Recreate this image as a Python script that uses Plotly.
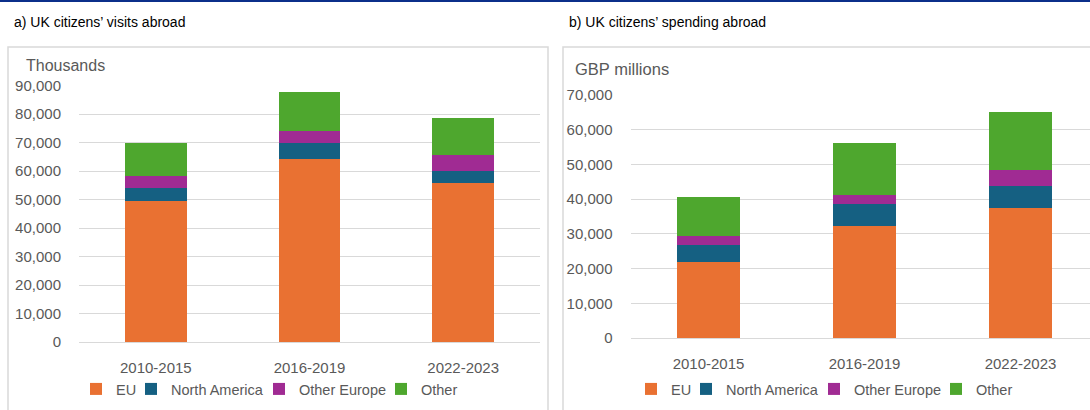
import plotly.graph_objects as go

categories = ["2010-2015", "2016-2019", "2022-2023"]
series_names = ["EU", "North America", "Other Europe", "Other"]
colors = ["#E97132", "#156082", "#A02B93", "#4EA72E"]

# a) UK citizens' visits abroad (thousands)
visits_eu = [49600, 64300, 55800]
visits_na = [4500, 5500, 4200]
visits_oe = [4100, 4300, 5500]
visits_other = [11600, 13800, 13100]

# b) UK citizens' spending abroad (GBP millions)
spend_eu = [21900, 32200, 37500]
spend_na = [4900, 6500, 6200]
spend_oe = [2500, 2500, 4700]
spend_other = [11200, 15100, 16800]

W, H = 1090, 410
TXT = "#595959"
GRID = "#D9D9D9"
FONT = "Liberation Sans, Arial, sans-serif"

# legend entry widths (px) for a slightly tighter legend, like the original
legend_w = [10, 83, 77, 36]

def px_x(p):
    return p / W

def px_y(p):
    return 1 - p / H

fig = go.Figure()

left = [visits_eu, visits_na, visits_oe, visits_other]
right = [spend_eu, spend_na, spend_oe, spend_other]
for name, col, vals, lw in zip(series_names, colors, left, legend_w):
    fig.add_trace(go.Bar(x=categories, y=vals, name=name, marker=dict(color=col, line=dict(width=0)),
                         xaxis="x", yaxis="y", legend="legend", legendwidth=lw))
for name, col, vals, lw in zip(series_names, colors, right, legend_w):
    fig.add_trace(go.Bar(x=categories, y=vals, name=name, marker=dict(color=col, line=dict(width=0)),
                         xaxis="x2", yaxis="y2", legend="legend2", legendwidth=lw))

axis_font = dict(family=FONT, size=15, color=TXT)

fig.update_layout(
    width=W, height=H,
    margin=dict(l=0, r=0, t=0, b=0, autoexpand=False),
    paper_bgcolor="white", plot_bgcolor="white",
    barmode="stack", bargap=0.6,
    font=dict(family=FONT, color=TXT),
    xaxis=dict(domain=[px_x(79), px_x(540)], showgrid=False, showline=False, zeroline=False,
               tickfont=axis_font, ticks="outside", ticklen=12, tickcolor="rgba(0,0,0,0)",
               anchor="y", automargin=False),
    yaxis=dict(domain=[px_y(342), px_y(85.7)], range=[0, 90000], dtick=10000, tickformat=",",
               showgrid=True, gridcolor=GRID, gridwidth=1, zeroline=True, zerolinecolor=GRID,
               zerolinewidth=1, showline=False, tickfont=axis_font, ticks="outside", ticklen=14,
               tickcolor="rgba(0,0,0,0)", anchor="x", automargin=False),
    xaxis2=dict(domain=[px_x(630.5), 1], range=[-0.5, (W - 630.5) / 156 - 0.5], showgrid=False,
                showline=False, zeroline=False, tickfont=axis_font, ticks="outside", ticklen=12,
                tickcolor="rgba(0,0,0,0)", anchor="y2", automargin=False),
    yaxis2=dict(domain=[px_y(338), px_y(95)], range=[0, 70000], dtick=10000, tickformat=",",
                showgrid=True, gridcolor=GRID, gridwidth=1, zeroline=True, zerolinecolor=GRID,
                zerolinewidth=1, showline=False, tickfont=axis_font, ticks="outside", ticklen=14,
                tickcolor="rgba(0,0,0,0)", anchor="x2", automargin=False),
    legend=dict(orientation="h", x=px_x(116 - 40), xanchor="left", y=px_y(389), yanchor="middle",
                font=dict(family=FONT, size=14.5, color=TXT), itemwidth=30, traceorder="normal",
                bgcolor="rgba(0,0,0,0)"),
    legend2=dict(orientation="h", x=px_x(671 - 40), xanchor="left", y=px_y(389), yanchor="middle",
                 font=dict(family=FONT, size=14.5, color=TXT), itemwidth=30, traceorder="normal",
                 bgcolor="rgba(0,0,0,0)"),
    showlegend=True,
)

shapes = [
    dict(type="rect", xref="paper", yref="paper", x0=0, x1=1, y0=px_y(2), y1=1,
         fillcolor="#0B2F8A", line=dict(width=0), layer="above"),
    dict(type="rect", xref="paper", yref="paper", x0=px_x(8), x1=px_x(548), y0=px_y(415), y1=px_y(47),
         fillcolor="rgba(0,0,0,0)", line=dict(color=GRID, width=1.5), layer="below"),
    dict(type="rect", xref="paper", yref="paper", x0=px_x(563), x1=px_x(1100), y0=px_y(415), y1=px_y(47),
         fillcolor="rgba(0,0,0,0)", line=dict(color=GRID, width=1.5), layer="below"),
]
fig.update_layout(shapes=shapes)

annotations = [
    dict(text="a) UK citizens’ visits abroad", x=px_x(12), y=px_y(22), xref="paper", yref="paper",
         xanchor="left", yanchor="middle", showarrow=False,
         font=dict(family=FONT, size=14, color="#000000")),
    dict(text="b) UK citizens’ spending abroad", x=px_x(567), y=px_y(22), xref="paper", yref="paper",
         xanchor="left", yanchor="middle", showarrow=False,
         font=dict(family=FONT, size=14, color="#000000")),
    dict(text="Thousands", x=px_x(24), y=px_y(65), xref="paper", yref="paper",
         xanchor="left", yanchor="middle", showarrow=False,
         font=dict(family=FONT, size=16, color=TXT)),
    dict(text="GBP millions", x=px_x(573), y=px_y(69), xref="paper", yref="paper",
         xanchor="left", yanchor="middle", showarrow=False,
         font=dict(family=FONT, size=16.5, color=TXT)),
]
fig.update_layout(annotations=annotations)

post = ("document.documentElement.style.margin='0';document.documentElement.style.padding='0';"
        "document.body.style.margin='0';document.body.style.padding='0';"
        "document.body.style.overflow='hidden';"
        "var d=document.getElementById('{plot_id}');d.style.position='fixed';"
        "d.style.left='0px';d.style.top='0px';")
fig.write_html("out.html", post_script=post, config={"displayModeBar": False})
